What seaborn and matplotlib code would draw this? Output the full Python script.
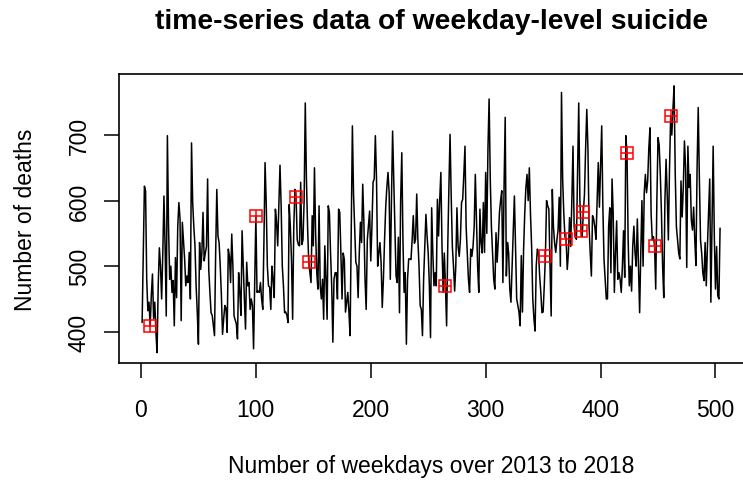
import numpy as np
import pandas as pd
import matplotlib
matplotlib.use("Agg")
import matplotlib.pyplot as plt
import seaborn as sns

# ---- data ----
deaths_001_100 = [
    414, 515, 622, 615, 480, 432, 445, 408, 455, 488,
    420, 445, 400, 368, 470, 528, 500, 450, 520, 607,
    530, 424, 699, 560, 480, 500, 460, 478, 409, 513,
    452, 560, 597, 572, 417, 567, 540, 511, 470, 485,
    475, 521, 450, 688, 597, 560, 531, 470, 430, 381,
    536, 495, 520, 582, 508, 520, 530, 633, 495, 460,
    429, 425, 410, 394, 520, 617, 546, 536, 500, 455,
    396, 420, 440, 436, 399, 526, 515, 475, 549, 500,
    424, 418, 412, 389, 490, 460, 425, 554, 500, 450,
    404, 506, 470, 475, 434, 450, 440, 374, 480, 577,
]
deaths_101_200 = [
    460, 462, 460, 475, 450, 434, 536, 658, 597, 500,
    470, 468, 434, 500, 480, 452, 587, 567, 531, 590,
    654, 592, 500, 470, 429, 430, 425, 414, 594, 560,
    510, 419, 560, 617, 605, 540, 533, 531, 628, 533,
    540, 600, 749, 633, 560, 506, 490, 475, 577, 531,
    650, 551, 490, 465, 592, 470, 450, 480, 419, 531,
    480, 419, 592, 582, 520, 470, 384, 480, 490, 490,
    450, 587, 582, 520, 450, 520, 510, 430, 445, 460,
    430, 394, 560, 714, 610, 560, 506, 500, 452, 520,
    567, 536, 625, 567, 480, 434, 540, 561, 584, 508,
]
deaths_201_300 = [
    560, 628, 633, 699, 633, 500, 520, 536, 505, 437,
    480, 540, 590, 620, 643, 612, 480, 600, 706, 633,
    560, 485, 475, 544, 429, 600, 673, 540, 460, 490,
    381, 480, 511, 511, 510, 540, 577, 535, 541, 610,
    540, 500, 440, 434, 394, 480, 530, 579, 546, 520,
    470, 391, 589, 520, 470, 490, 470, 602, 546, 600,
    643, 530, 460, 520, 470, 409, 530, 620, 701, 607,
    530, 500, 462, 500, 589, 530, 515, 540, 597, 602,
    640, 683, 560, 520, 480, 460, 526, 515, 530, 560,
    640, 570, 500, 460, 587, 536, 520, 597, 521, 643,
]
deaths_301_400 = [
    550, 680, 755, 633, 560, 521, 480, 465, 551, 506,
    540, 582, 600, 615, 475, 620, 727, 485, 536, 520,
    465, 445, 500, 560, 607, 530, 450, 440, 430, 409,
    516, 430, 525, 580, 620, 640, 600, 650, 580, 530,
    450, 420, 401, 500, 526, 520, 485, 460, 429, 430,
    470, 516, 600, 592, 587, 500, 424, 617, 560, 535,
    521, 540, 555, 605, 500, 765, 633, 580, 545, 541,
    495, 520, 574, 530, 600, 683, 560, 545, 541, 650,
    749, 600, 554, 545, 582, 610, 680, 739, 680, 560,
    520, 485, 577, 572, 560, 541, 600, 658, 590, 650,
]
deaths_401_504 = [
    714, 590, 510, 480, 450, 450, 560, 589, 490, 633,
    580, 460, 520, 569, 480, 490, 480, 460, 500, 554,
    483, 699, 672, 540, 470, 500, 462, 530, 561, 520,
    500, 572, 500, 429, 520, 600, 500, 612, 640, 612,
    630, 680, 711, 580, 540, 545, 531, 465, 600, 696,
    685, 640, 580, 500, 452, 600, 663, 610, 540, 648,
    729, 700, 740, 775, 640, 560, 540, 520, 511, 630,
    575, 620, 691, 650, 498, 683, 620, 640, 570, 555,
    590, 540, 501, 650, 742, 633, 540, 520, 490, 478,
    536, 470, 530, 580, 633, 445, 560, 683, 545, 465,
    530, 455, 450, 558,
]
highlight_days = [8, 100, 135, 146, 265, 352, 370, 383, 385, 423, 447, 461]

x_ticks = [0, 100, 200, 300, 400, 500]
y_ticks = [400, 500, 600, 700]
title_text = "time-series data of weekday-level suicide"
x_label = "Number of weekdays over 2013 to 2018"
y_label = "Number of deaths"

deaths = (deaths_001_100 + deaths_101_200 + deaths_201_300
          + deaths_301_400 + deaths_401_504)
days = list(range(1, len(deaths) + 1))
df = pd.DataFrame({"day": days, "deaths": deaths})
hl = df[df["day"].isin(highlight_days)]

# ---- style ----
sns.set_theme(style="white")
plt.rcParams["font.family"] = ["Liberation Sans", "DejaVu Sans"]

W, H = 743, 485
fig = plt.figure(figsize=(W / 100, H / 100), dpi=100)
ax_left, ax_right, ax_top, ax_bottom = 119, 743.5, 75, 364
ax = fig.add_axes([ax_left / W, (H - ax_bottom) / H,
                   (ax_right - ax_left) / W, (ax_bottom - ax_top) / H])

sns.lineplot(data=df, x="day", y="deaths", color="black", linewidth=1.1,
             estimator=None, ax=ax)
ax.plot(hl["day"], hl["deaths"], ls="none", marker="s", mfc="none",
        mec="#ff0000", ms=8.4, mew=1.1, zorder=5)
ax.plot(hl["day"], hl["deaths"], ls="none", marker="+",
        mec="#ff0000", ms=8.4, mew=1.1, zorder=5)

ax.set_xlim(-19.12, 524.4)
ax.set_ylim(352.3, 793.1)
ax.set_xticks(x_ticks)
ax.set_yticks(y_ticks)
ax.set_xticklabels([str(t) for t in x_ticks])
ax.set_yticklabels([str(t) for t in y_ticks])

for s in ax.spines.values():
    s.set_visible(True)
    s.set_color("black")
    s.set_linewidth(1.2)

ax.tick_params(axis="both", direction="out", length=10.8, width=1.1,
               color="black", labelsize=16.5, labelcolor="black")
ax.tick_params(axis="x", pad=14.6, bottom=True)
ax.tick_params(axis="y", pad=9.5, left=True)
for lbl in ax.get_yticklabels():
    lbl.set_rotation(90)
    lbl.set_va("center")

ax.set_title(title_text, fontsize=20.3, fontweight="bold", pad=33.0,
             color="black")
ax.set_xlabel(x_label, fontsize=16.5, color="black")
ax.xaxis.set_label_coords(0.5, (ax_bottom - 473.3) / (ax_bottom - ax_top))
ax.xaxis.label.set_va("baseline")
ax.set_ylabel(y_label, fontsize=16.5, color="black")
ax.yaxis.set_label_coords((31.7 - ax_left) / (ax_right - ax_left), 0.5)
ax.yaxis.label.set_va("baseline")

fig.savefig("out.png", dpi=100, facecolor="white")
